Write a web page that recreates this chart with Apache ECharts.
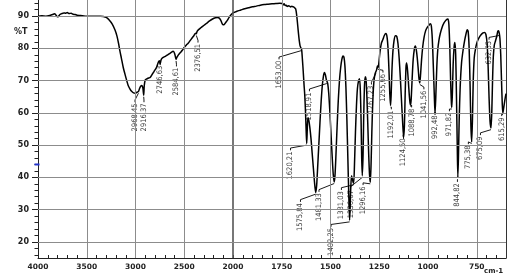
<!DOCTYPE html>
<html><head><meta charset="utf-8">
<script src="https://cdn.jsdelivr.net/npm/echarts@6/dist/echarts.min.js"></script>
<style>html,body{margin:0;padding:0;background:#fff}#c{width:522px;height:280px}</style>
</head><body><div id="c"></div>
<script>
// IR spectrum (wavenumber cm-1, %T)
const wavenumbers = [4000,3960,3920,3880,3850,3830,3815,3800,3790,3775,3755,3735,3715,3700,3680,3660,3640,3620,3600,3570,3540,3500,3450,3400,3360,3330,3300,3270,3240,3210,3190,3175,3160,3145,3125,3108,3090,3075,3056,3040,3020,3000,2985,2970,2960,2948,2935,2925,2916,2910,2900,2885,2865,2850,2830,2815,2800,2783,2765,2755,2746,2738,2725,2710,2690,2670,2650,2630,2615,2600,2590,2584,2576,2560,2540,2520,2500,2480,2460,2440,2420,2400,2385,2376,2368,2350,2330,2300,2270,2240,2210,2180,2160,2140,2125,2110,2100,2090,2075,2060,2040,2020,2000,1980,1960,1940,1920,1900,1880,1860,1840,1820,1800,1780,1760,1748,1742,1738,1732,1727,1722,1716,1710,1704,1698,1692,1686,1680,1676,1672,1668,1664,1660,1656,1652,1648,1644,1640,1636,1632,1628,1624,1622,1619,1616,1612,1606,1600,1594,1588,1582,1576,1571,1566,1560,1554,1548,1542,1536,1531,1526,1521,1518,1514,1509,1503,1497,1491,1486,1481,1477,1472,1466,1460,1454,1448,1442,1436,1431,1426,1421,1416,1411,1406,1402,1399,1396,1392,1388,1384,1381,1377,1372,1367,1362,1356,1351,1347,1343,1340,1337,1333,1330,1326,1322,1318,1314,1309,1304,1300,1296,1292,1288,1284,1280,1276,1271,1267,1263,1259,1256,1252,1248,1243,1238,1231,1224,1216,1210,1205,1200,1196,1192,1189,1185,1180,1174,1167,1160,1154,1148,1142,1136,1130,1125,1121,1117,1113,1110,1106,1101,1096,1092,1089,1086,1081,1076,1070,1065,1060,1055,1050,1046,1042,1038,1033,1027,1020,1012,1003,995,988,983,978,973,968,964,960,955,950,944,937,928,918,907,898,893,888,884,880,878,875,871,866,862,858,854,850,847,844,840,835,828,820,812,805,799,794,789,784,780,776,772,768,763,756,748,738,728,718,710,703,697,692,687,682,677,673,669,665,660,654,648,642,638,634,631,627,623,619,616,612,607,603,600];
const transmittance = [90.0,90.1,90.0,90.2,90.5,90.7,90.3,89.8,89.9,90.5,90.8,91.0,90.9,91.1,90.8,90.9,90.6,90.5,90.3,90.2,90.1,90.0,90.0,90.0,90.0,89.9,89.6,88.8,87.6,85.7,83.8,81.7,79.2,77.0,74.0,72.0,70.0,68.5,67.4,66.7,66.2,66.1,66.4,66.6,67.4,68.2,68.5,67.8,65.5,68.5,70.2,70.5,70.8,71.0,71.9,72.6,73.3,74.2,75.8,76.2,75.3,76.4,77.0,77.3,77.6,78.0,78.4,78.8,79.1,78.5,77.3,76.6,77.2,78.0,78.7,79.4,80.3,81.0,81.6,82.4,83.2,84.0,84.7,84.5,85.3,85.9,86.4,87.1,87.8,88.5,89.1,89.5,89.6,89.4,88.7,87.6,87.3,87.4,88.0,88.6,89.6,90.4,91.0,91.5,91.9,92.3,92.6,92.9,93.1,93.4,93.6,93.7,93.8,93.9,94.0,93.9,93.5,93.8,93.3,93.4,93.0,93.2,93.1,92.8,93.1,92.9,92.7,92.4,91.5,89.5,87.0,84.5,82.3,80.8,80.2,79.6,76.5,73.0,69.0,65.5,60.0,53.0,50.5,55.0,58.5,58.0,55.5,52.0,47.5,43.0,38.5,35.3,37.5,43.0,50.0,57.0,63.5,68.5,71.5,72.5,71.8,70.2,69.8,69.0,66.0,60.0,53.0,46.0,41.0,38.6,40.5,47.0,56.0,64.0,70.0,74.0,76.5,77.6,77.3,74.5,68.0,58.0,46.0,34.0,26.7,31.0,37.0,40.5,39.5,38.5,38.2,44.0,54.0,62.0,67.5,70.0,70.6,67.0,57.0,46.0,40.5,47.0,58.0,68.0,71.2,70.5,66.0,57.0,47.0,41.0,38.5,44.0,54.0,62.0,67.5,70.5,72.2,72.8,73.5,74.5,74.0,75.5,78.0,80.3,81.8,82.8,84.0,84.6,83.5,80.0,73.0,66.0,62.3,65.5,73.0,79.0,82.5,83.9,83.7,81.5,77.0,71.0,64.0,57.0,52.4,56.0,66.0,74.0,75.5,74.0,70.0,65.5,63.0,62.4,64.5,71.0,76.5,79.8,80.7,79.5,77.0,73.5,70.5,69.3,72.0,76.5,80.5,83.5,85.5,86.6,87.2,87.6,87.0,83.0,75.0,66.0,59.8,65.0,74.0,79.5,82.5,84.6,86.5,87.9,88.8,89.1,87.5,80.0,70.0,63.0,61.7,66.0,75.0,80.5,81.8,78.0,65.0,50.0,40.0,46.0,58.0,68.0,75.5,79.5,82.5,84.5,85.8,85.2,80.0,68.0,56.0,51.0,58.0,70.0,77.0,80.0,82.0,83.3,84.2,84.8,84.9,84.3,81.5,75.0,65.0,57.5,55.3,60.0,70.0,77.5,81.0,82.3,83.6,85.3,85.5,84.5,83.0,78.0,70.0,62.5,59.9,61.5,63.5,65.0,66.0];

// axis tick labels
const xTickLabels = [4000,3500,3000,2500,2000,1750,1500,1250,1000,750];
const yTickLabels = [20,30,40,50,60,70,80,90];

// peak annotations
const peakLabels = ['2968,45','2916,37','2746,63','2584,61','2376,51','1653,00','1620,21','1575,84','1518,91','1481,33','1402,25','1381,03','1336,67','1296,16','1267,23','1255,66','1192,01','1124,50','1088,78','1041,56','992,48','971,82','844,82','775,38','675,09','632,65','615,29'];
const peakWavenumbers = [2970,2916,2746,2584,2376,1650,1622,1576,1519,1481,1402,1381,1337,1296,1267,1256,1192,1125,1089,1042,964,878,847,776,677,634,616];
const peakTransmittance = [66.6,65.5,75.3,76.6,84.5,79.8,50.5,35.3,69.6,38.6,26.7,38.2,40.5,38.5,72.8,74.0,62.3,52.4,62.4,69.3,59.8,61.7,40.0,51.0,55.3,84.5,59.9];
const labelWavenumbers = [3005,2913,2749,2580,2359,1764,1705,1654,1608,1559,1497,1444,1397,1333,1290,1231,1188,1127,1084,1021,964,890,849,793,731,687,622];
const labelTops = [62.9,62.9,74.6,74.0,81.4,76.2,48.0,32.0,66.3,35.1,24.3,35.7,36.0,37.2,68.4,72.1,60.7,52.1,61.3,66.9,59.2,60.1,38.2,49.9,52.7,82.3,58.6];

// compressed scale above 2000 cm-1 (half the density)
function pos(w){ return w <= 2000 ? w : 2000 + (w - 2000) / 2; }
function unpos(p){ return p <= 2000 ? p : 2000 + (p - 2000) * 2; }

const xMinorTicks = [];
for (let p = 650; p < 3000; p += 50) xMinorTicks.push(p);
const yMinorTicks = [];
for (let v = 16; v <= 94; v += 2) if (v % 10 !== 0) yMinorTicks.push(v);

const spectrum = wavenumbers.map((w, i) => [pos(w), transmittance[i]]);
const labelData = labelWavenumbers.map((w, i) => ({
  value: [pos(w), labelTops[i]],
  label: { formatter: peakLabels[i] }
}));
const leaderData = labelWavenumbers.map((w, i) => ({
  coords: [
    [pos(w), labelTops[i] + 0.4],
    [pos(w), labelTops[i] + 1.1],
    [pos(peakWavenumbers[i]), peakTransmittance[i] - 0.5]
  ]
}));

const gridLines = xTickLabels.filter(w => w !== 4000).map(w => ({
  xAxis: pos(w),
  lineStyle: w === 2000 ? { color: '#555', width: 1.6 } : undefined
})).concat(yTickLabels.map(v => ({ yAxis: v })));

const labelFont = { fontFamily: 'DejaVu Sans', fontWeight: 'bold', fontSize: 7.5, color: '#222' };

const chart = echarts.init(document.getElementById('c'), null, { renderer: 'canvas' });
chart.setOption({
  animation: false,
  backgroundColor: '#fff',
  grid: { left: 38, right: 16, top: -1, bottom: 22, containLabel: false },
  xAxis: {
    type: 'value', min: 600, max: 3000, inverse: true,
    axisLine: { show: true, lineStyle: { color: '#222', width: 1 } },
    axisTick: { show: true, inside: true, length: 3, customValues: xMinorTicks, lineStyle: { color: '#222' } },
    axisLabel: Object.assign({ customValues: xTickLabels.map(pos), margin: 5,
      formatter: v => String(Math.round(unpos(v))) }, labelFont),
    splitLine: { show: false }
  },
  yAxis: [
    {
      type: 'value', min: 15, max: 95, position: 'left',
      axisLine: { show: true, lineStyle: { color: '#222', width: 1 } },
      axisTick: { show: true, length: 6, customValues: yTickLabels, lineStyle: { color: '#222' } },
      axisLabel: Object.assign({ customValues: yTickLabels, margin: 9 }, labelFont, { fontSize: 8 }),
      splitLine: { show: false }
    },
    {
      type: 'value', min: 15, max: 95, position: 'left',
      axisLine: { show: false },
      axisTick: { show: true, length: 3.5, customValues: yMinorTicks, lineStyle: { color: '#222' } },
      axisLabel: { show: false }, splitLine: { show: false }
    },
    {
      type: 'value', min: 15, max: 95, position: 'right',
      axisLine: { show: true, lineStyle: { color: '#333', width: 1 } },
      axisTick: { show: false }, axisLabel: { show: false }, splitLine: { show: false }
    }
  ],
  series: [
    {
      type: 'line', name: 'grid', data: [], z: 1, silent: true,
      markLine: {
        silent: true, symbol: 'none', animation: false,
        label: { show: false },
        lineStyle: { color: '#8c8c8c', width: 1, type: 'solid' },
        data: gridLines
      },
      markPoint: {
        silent: true, symbol: 'rect', symbolSize: [5, 2], symbolOffset: [-1, 0],
        itemStyle: { color: '#2233cc' }, label: { show: false },
        data: [{ coord: [3000, 44] }]
      }
    },
    {
      type: 'line', name: 'spectrum', data: spectrum, z: 3,
      symbol: 'none', smooth: 0.25,
      lineStyle: { color: '#000', width: 1.5 }
    },
    {
      type: 'lines', coordinateSystem: 'cartesian2d', polyline: true, z: 2,
      silent: true, data: leaderData,
      lineStyle: { color: '#000', width: 0.9, opacity: 1 }
    },
    {
      type: 'scatter', data: labelData, z: 4, symbolSize: 1, silent: true,
      itemStyle: { color: 'rgba(0,0,0,0)' },
      label: {
        show: true, position: 'inside', rotate: 90, align: 'right', verticalAlign: 'middle',
        fontFamily: "'Liberation Sans Narrow', 'DejaVu Sans Condensed', sans-serif",
        fontSize: 7.5, color: '#000'
      },
      labelLayout: { hideOverlap: false }
    }
  ],
  graphic: [
    { type: 'text', left: 14, top: 28, style: { text: '%T', font: 'bold 8px "DejaVu Sans"', fill: '#222' } },
    { type: 'text', left: 484, top: 268, style: { text: 'cm-1', font: 'bold 7px "DejaVu Sans"', fill: '#222' } }
  ]
});
</script></body></html>
